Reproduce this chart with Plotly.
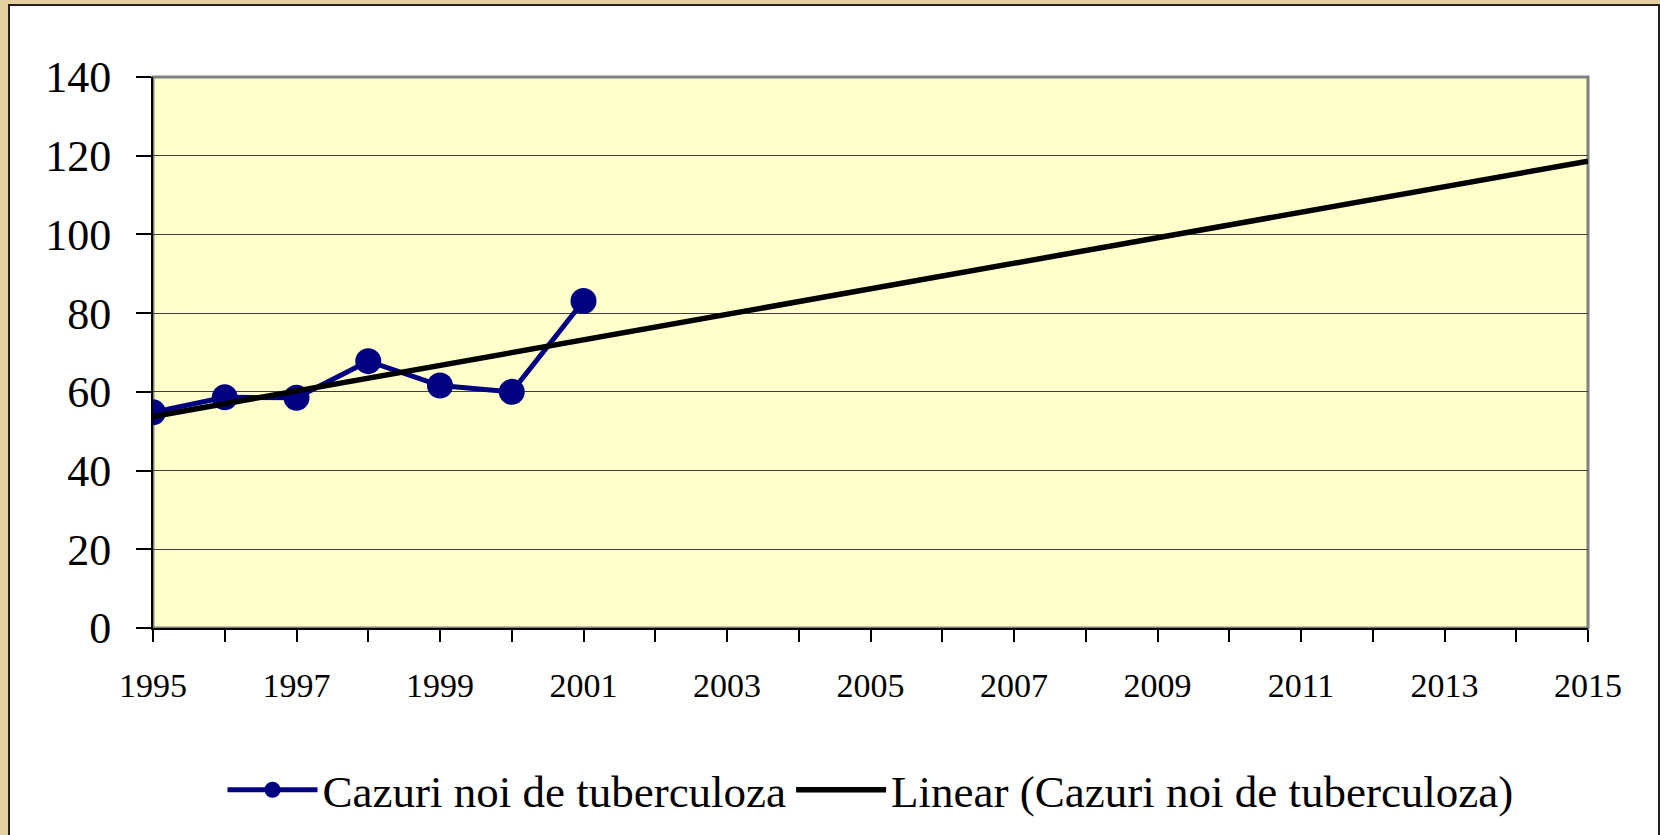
import numpy as np
import plotly.graph_objects as go

years = [1995, 1996, 1997, 1998, 1999, 2000, 2001]
cases = [54.8, 58.6, 58.5, 67.8, 61.6, 60.0, 83.1]
trend_years = [1995, 2015]
series_name = "Cazuri noi de tuberculoza"
trend_name = "Linear (Cazuri noi de tuberculoza)"
y_ticks = [0, 20, 40, 60, 80, 100, 120, 140]
x_label_years = list(range(1995, 2016, 2))

slope, intercept = np.polyfit(years, cases, 1)
trend_vals = [slope * x + intercept for x in trend_years]

W, H = 1660, 835
L, R, T, B = 153, 1588, 77, 628


def px(x):
    return (x - L) / (R - L)


def py(y):
    return (B - y) / (B - T)


FONT = "Liberation Serif, Times New Roman, serif"

fig = go.Figure()
fig.add_trace(go.Scatter(
    x=years, y=cases, name=series_name, mode="lines+markers",
    line=dict(color="#000080", width=5),
    marker=dict(color="#000080", size=26),
))
fig.add_trace(go.Scatter(
    x=trend_years, y=trend_vals, name=trend_name, mode="lines",
    line=dict(color="black", width=5.5),
))

shapes = [
    dict(type="rect", xref="paper", yref="paper", layer="below",
         x0=px(9), x1=px(1659), y0=py(5), y1=py(900),
         fillcolor="white", line=dict(color="#222222", width=2)),
    dict(type="rect", xref="paper", yref="paper", layer="below",
         x0=0, x1=1, y0=0, y1=1,
         fillcolor="#FFFFCC", line=dict(color="#808080", width=3)),
]

fig.update_layout(
    width=W, height=H,
    margin=dict(l=L, r=W - R, t=T, b=H - B, autoexpand=False),
    paper_bgcolor="#e4cf9e",
    plot_bgcolor="rgba(0,0,0,0)",
    shapes=shapes,
    font=dict(family=FONT, color="black"),
    showlegend=True,
    legend=dict(orientation="h", x=0.5, xanchor="center", y=py(790), yanchor="middle",
                font=dict(family=FONT, size=45, color="black"),
                itemwidth=90, bgcolor="rgba(0,0,0,0)", traceorder="normal"),
    xaxis=dict(
        range=[1995, 2015], tickmode="array", tickvals=x_label_years,
        ticktext=[str(v) for v in x_label_years],
        ticks="outside", ticklen=12, tickwidth=1.5, tickcolor="black",
        minor=dict(dtick=1, tick0=1995, ticks="outside", ticklen=12, tickwidth=1.5,
                   tickcolor="black", showgrid=False),
        showgrid=False, zeroline=False, showline=True, linecolor="black", linewidth=2,
        tickfont=dict(family=FONT, size=34, color="black"), ticklabelstandoff=14,
    ),
    yaxis=dict(
        range=[0, 140], tickvals=y_ticks,
        ticks="outside", ticklen=15, tickwidth=1.5, tickcolor="black",
        showgrid=True, gridcolor="#404040", gridwidth=1,
        zeroline=False, showline=True, linecolor="black", linewidth=2,
        tickfont=dict(family=FONT, size=44, color="black"), ticklabelstandoff=16,
    ),
)

fig.write_html("out.html", config={"displayModeBar": False},
               post_script="document.body.style.margin='0';")
